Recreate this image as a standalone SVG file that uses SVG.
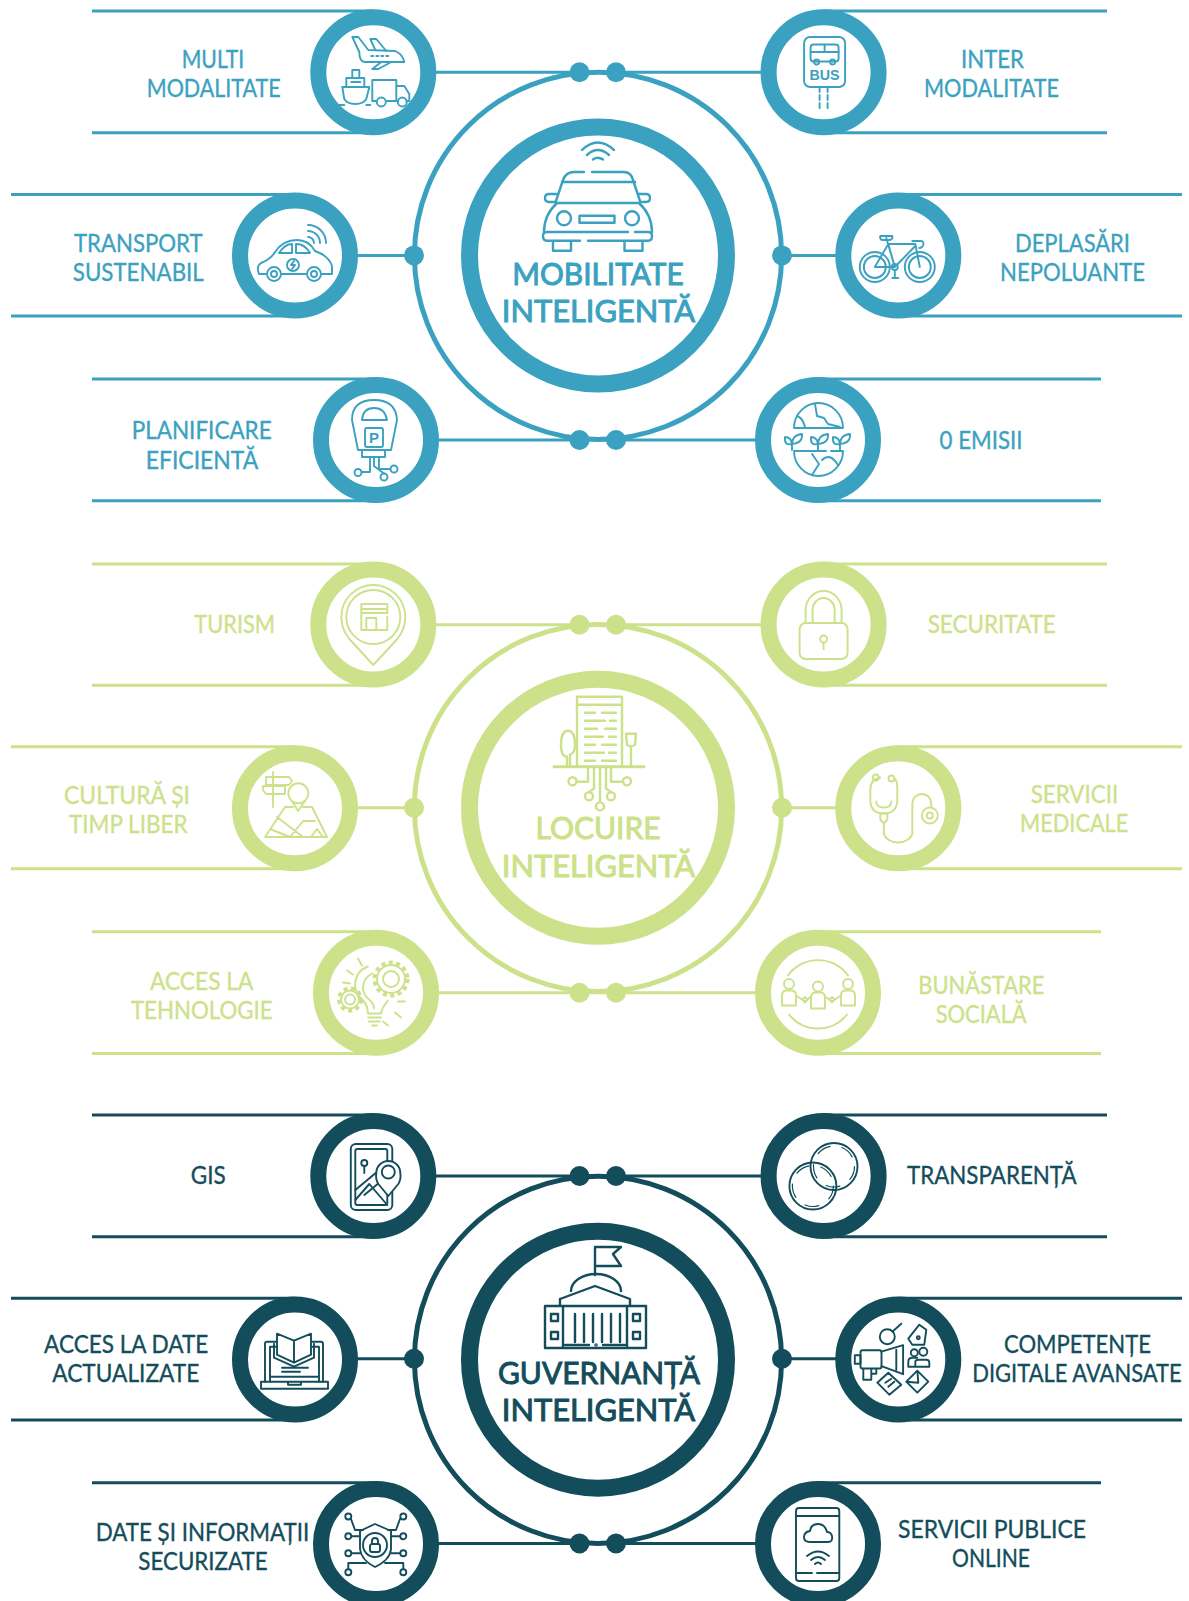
<svg xmlns="http://www.w3.org/2000/svg" width="1189" height="1601" viewBox="0 0 1189 1601">
<defs>
<style>
.teal{color:#3ba1c0}.lime{color:#cde18a}.navy{color:#134d5b}
.ring{fill:#fff;stroke:currentColor;stroke-width:16}
.hubring{fill:#fff;stroke:currentColor;stroke-width:17}
.orbit{fill:none;stroke:currentColor;stroke-width:5}
.dot{fill:currentColor}
.ic{fill:none;stroke:currentColor;stroke-width:1.9;stroke-linecap:round;stroke-linejoin:round}
.hubic{stroke-width:2.4}
.lb{fill:currentColor;stroke:currentColor;stroke-width:.35;font-family:Lato,"Open Sans",sans-serif;font-size:25px;text-anchor:middle}
.hub{font-size:31px;stroke-width:1}
.icb{fill:currentColor;stroke:none;font-family:"Liberation Sans",sans-serif;font-weight:700;text-anchor:middle}
.ln line{stroke:currentColor;stroke-width:3}
.gear{stroke-width:4;stroke-dasharray:4 3.5;stroke-linecap:butt}
</style>
</defs>
<rect width="1189" height="1601" fill="#fff"/>

<g id="connectors">
<g class="ln teal">
<line x1="92" y1="11" x2="373" y2="11"/><line x1="92" y1="132.7" x2="373" y2="132.7"/>
<line x1="823" y1="11" x2="1107" y2="11"/><line x1="823" y1="132.7" x2="1107" y2="132.7"/>
<line x1="11" y1="194.5" x2="295" y2="194.5"/><line x1="11" y1="316" x2="295" y2="316"/>
<line x1="898" y1="194.5" x2="1182" y2="194.5"/><line x1="898" y1="316" x2="1182" y2="316"/>
<line x1="92" y1="379" x2="376" y2="379"/><line x1="92" y1="500.7" x2="376" y2="500.7"/>
<line x1="818" y1="379" x2="1101" y2="379"/><line x1="818" y1="500.7" x2="1101" y2="500.7"/>
<line x1="373" y1="72.3" x2="823" y2="72.3"/><line x1="376" y1="440" x2="818" y2="440"/>
<line x1="295" y1="255.4" x2="414" y2="255.4"/><line x1="782" y1="255.4" x2="898" y2="255.4"/>
</g>
<g class="ln lime">
<line x1="92" y1="564" x2="373" y2="564"/><line x1="92" y1="685.3" x2="373" y2="685.3"/>
<line x1="823" y1="564" x2="1107" y2="564"/><line x1="823" y1="685.3" x2="1107" y2="685.3"/>
<line x1="11" y1="746.7" x2="295" y2="746.7"/><line x1="11" y1="868.7" x2="295" y2="868.7"/>
<line x1="898" y1="746.7" x2="1182" y2="746.7"/><line x1="898" y1="868.7" x2="1182" y2="868.7"/>
<line x1="92" y1="931.7" x2="376" y2="931.7"/><line x1="92" y1="1053.5" x2="376" y2="1053.5"/>
<line x1="818" y1="931.7" x2="1101" y2="931.7"/><line x1="818" y1="1053.5" x2="1101" y2="1053.5"/>
<line x1="373" y1="624.8" x2="823" y2="624.8"/><line x1="376" y1="992.7" x2="818" y2="992.7"/>
<line x1="295" y1="807.8" x2="414" y2="807.8"/><line x1="782" y1="807.8" x2="898" y2="807.8"/>
</g>
<g class="ln navy">
<line x1="92" y1="1115" x2="373" y2="1115"/><line x1="92" y1="1236.7" x2="373" y2="1236.7"/>
<line x1="823" y1="1115" x2="1107" y2="1115"/><line x1="823" y1="1236.7" x2="1107" y2="1236.7"/>
<line x1="11" y1="1298.3" x2="295" y2="1298.3"/><line x1="11" y1="1420" x2="295" y2="1420"/>
<line x1="898" y1="1298.3" x2="1182" y2="1298.3"/><line x1="898" y1="1420" x2="1182" y2="1420"/>
<line x1="92" y1="1482.7" x2="376" y2="1482.7"/>
<line x1="818" y1="1482.7" x2="1101" y2="1482.7"/>
<line x1="373" y1="1176" x2="823" y2="1176"/><line x1="376" y1="1543.5" x2="818" y2="1543.5"/>
<line x1="295" y1="1358.7" x2="414" y2="1358.7"/><line x1="782" y1="1358.7" x2="898" y2="1358.7"/>
</g>
</g>

<!-- MOBILITATE -->
<g id="hub-mobilitate" class="teal">
<circle class="orbit" cx="598" cy="255.8" r="183.6"/>
<circle class="hubring" cx="598" cy="255.5" r="128.5"/>
<circle class="dot" cx="579.5" cy="72.3" r="10"/><circle class="dot" cx="616" cy="72.3" r="10"/>
<circle class="dot" cx="579.5" cy="440" r="10"/><circle class="dot" cx="616" cy="440" r="10"/>
<circle class="dot" cx="414" cy="255.4" r="10"/><circle class="dot" cx="782" cy="255.4" r="10"/>
<g class="ic hubic">
<path d="M582,150 Q597.7,135 614,150M587,155 Q597.7,145 609,155M593,159.5 Q597.7,156 603,159.5"/>
<path d="M556,201 L563,180 Q566,172 574,172 H584M592,172 H624 Q631,172 633,180 L640,201"/>
<path d="M562,182 H635"/>
<path d="M556,203 H640"/>
<path d="M557,203 Q544,215 544,232M639,203 Q652,215 652,232"/>
<path d="M580,240.7 H547 Q543,240.7 543,236 Q543,232 547,232 H628M635,232 H648 Q652,232 652,236 Q652,240.7 648,240.7 H588"/>
<path d="M557,194 H549 Q545,194 545,198 Q545,202 549,202 H555M638,194 H646 Q650,194 650,198 Q650,202 646,202 H641"/>
<circle cx="564" cy="218.3" r="7"/><circle cx="632" cy="218.3" r="7"/><rect x="579.5" y="215.7" width="35" height="7"/>
<path d="M553,241 V250.7 H571 V241M624.5,241 V250.7 H642.5 V241"/>
</g>
<text class="lb hub" x="598" y="285" textLength="171.5" lengthAdjust="spacingAndGlyphs">MOBILITATE</text>
<text class="lb hub" x="598.5" y="321.7" textLength="193.5" lengthAdjust="spacingAndGlyphs">INTELIGENTĂ</text>
</g>

<g id="multi-modalitate" class="teal">
<circle class="ring" cx="373.3" cy="72.2" r="55"/>
<g class="ic" transform="translate(373.3,73)">
<path d="M-14,-21 L-21,-36 L-15,-36 L-5,-23 L22,-22 Q30,-18 31,-11 L-8,-11 Q-14,-11 -14,-21Z"/>
<path d="M2,-23 L-3,-34 L3,-34 L13,-22M8,-11 L-1,-4 L5,-4 L18,-11"/>
<path d="M-2,-17 H18" stroke-dasharray="2 3"/>
<path d="M-31,14 H-4 L-7,26 Q-10,31 -18,31 Q-26,31 -29,26Z M-27,14 V5 H-9 V14M-21,5 V-3 H-14 V5M-22,9 H-13M-34,32 H-29M-7,32 H-3"/>
<path d="M3,28 H-1 V7 H23 V28 H13M23,13 H31 L36,21 V28 H33M25,28 H23"/>
<circle cx="8" cy="29" r="4.5"/><circle cx="29" cy="29" r="4.5"/>
</g>
<text class="lb" x="213" y="67.7" textLength="62.6" lengthAdjust="spacingAndGlyphs">MULTI</text>
<text class="lb" x="213.7" y="96.7" textLength="134" lengthAdjust="spacingAndGlyphs">MODALITATE</text>
</g>

<g id="inter-modalitate" class="teal">
<circle class="ring" cx="823.6" cy="72.2" r="55"/>
<g class="ic" transform="translate(823.6,73)">
<rect x="-19.5" y="-36" width="41" height="50" rx="6"/>
<rect x="-13" y="-28.5" width="28" height="17" rx="3"/><path d="M-13,-21 H15M1,-28 V-21"/>
<circle cx="-7" cy="-11" r="2.5"/><circle cx="9" cy="-11" r="2.5"/>
<text class="icb" x="1" y="7" font-size="15" textLength="30" lengthAdjust="spacingAndGlyphs">BUS</text>
<path d="M-4,14 V37M4,14 V37" stroke-dasharray="5 3"/>
</g>
<text class="lb" x="992.5" y="67.7" textLength="63" lengthAdjust="spacingAndGlyphs">INTER</text>
<text class="lb" x="991.5" y="96.7" textLength="135" lengthAdjust="spacingAndGlyphs">MODALITATE</text>
</g>

<g id="transport-sustenabil" class="teal">
<circle class="ring" cx="295" cy="255.5" r="55"/>
<g class="ic" transform="translate(295,254)">
<path d="M-29,20 H-36 Q-39,12 -34,9 Q-24,5 -20,-2 Q-12,-14 2,-14 Q14,-14 20,-3 Q34,2 37,12 V20 H27M11,20 H-13"/>
<path d="M-16,-1 Q-10,-10 -3,-10 V-1ZM1,-10 Q10,-10 15,-1 H1Z"/>
<circle cx="-21" cy="20" r="7"/><circle cx="-21" cy="20" r="3"/><circle cx="19" cy="20" r="7"/><circle cx="19" cy="20" r="3"/>
<circle cx="-2" cy="11" r="6"/><path d="M-1,7 L-4,11 H0 L-3,15"/>
<path d="M13,-29 A18,18 0 0 1 31,-11M13,-23 A12,12 0 0 1 25,-11M13,-17 A6,6 0 0 1 19,-11"/>
</g>
<text class="lb" x="138.3" y="251.7" textLength="128.7" lengthAdjust="spacingAndGlyphs">TRANSPORT</text>
<text class="lb" x="138.3" y="281" textLength="131" lengthAdjust="spacingAndGlyphs">SUSTENABIL</text>
</g>

<g id="deplasari-nepoluante" class="teal">
<circle class="ring" cx="898.3" cy="255.5" r="55"/>
<g class="ic" transform="translate(898.3,254)">
<circle cx="-23.5" cy="13" r="15"/><circle cx="-23.5" cy="13" r="11"/><circle cx="21.5" cy="13" r="15"/><circle cx="21.5" cy="13" r="11"/>
<path d="M-23.5,13 L-10,-10 L17,-10 L21.5,13M-10,-10 L-3.5,13 L17,-8M-23.5,13 H-3.5M-12,-16 L-3.5,13"/>
<path d="M-18,-18 H-6 Q-5,-14 -10,-14 H-16 Q-19,-15 -18,-18ZM14,-13 H22 Q26,-13 25,-9 Q24,-6 21,-6"/>
<circle cx="-3.5" cy="13" r="3"/><path d="M-6,24 H0M-3.5,16 V24"/>
</g>
<text class="lb" x="1072.5" y="251.7" textLength="115" lengthAdjust="spacingAndGlyphs">DEPLASĂRI</text>
<text class="lb" x="1072.5" y="281" textLength="145" lengthAdjust="spacingAndGlyphs">NEPOLUANTE</text>
</g>

<g id="planificare-eficienta" class="teal">
<circle class="ring" cx="376" cy="440" r="55"/>
<g class="ic" transform="translate(376,438)">
<path d="M-24,-18 Q-24,-38 -2,-38 Q20,-38 21,-18 L15,12 H-18ZM-14,12 V19 H9 V12"/>
<path d="M-14,-18 Q-13,-30 -2,-30 Q9,-30 11,-18M-14,-18 H11"/>
<rect x="-11" y="-10" width="18" height="19" rx="2"/>
<text class="icb" x="-2" y="5" font-size="15">P</text>
<path d="M-6,19 V34 H-14.5M-2,19 V28 L8,35.5M3,19 V31 H14.5"/>
<circle cx="-18" cy="34.5" r="3.5"/><circle cx="18" cy="31" r="3.5"/><circle cx="8" cy="39" r="3.5"/>
</g>
<text class="lb" x="201.7" y="439.3" textLength="140" lengthAdjust="spacingAndGlyphs">PLANIFICARE</text>
<text class="lb" x="202" y="468.7" textLength="112.7" lengthAdjust="spacingAndGlyphs">EFICIENTĂ</text>
</g>

<g id="zero-emisii" class="teal">
<circle class="ring" cx="818" cy="440" r="55"/>
<g class="ic" transform="translate(818,438)">
<path d="M-24,-10 A24.5,25 0 0 1 25,-10ZM-24,13 A24.5,25 0 0 0 25,13M-24,13 H8M13,13 H25"/>
<path d="M-3,-34 L-1,-22 L6,-20 L10,-14 L22,-11M-21,-22 Q-15,-20 -13,-11"/>
<path d="M-6,37 L1,26 L-6,16M4,22 Q12,14 20,27"/>
<path d="M-26,12 V6 M-26,6 Q-34,8 -33,-1 Q-27,-1 -26,6M-26,6 Q-26,-3 -16,-4 Q-15,5 -26,6"/>
<path d="M0,12 V6 M0,6 Q-8,8 -7,-1 Q-1,-1 0,6M0,6 Q0,-3 10,-4 Q11,5 0,6"/>
<path d="M22,12 V6 M22,6 Q14,8 15,-1 Q21,-1 22,6M22,6 Q22,-3 32,-4 Q33,5 22,6"/>
</g>
<text class="lb" x="981" y="448.7" textLength="83" lengthAdjust="spacingAndGlyphs">0 EMISII</text>
</g>

<!-- LOCUIRE -->
<g id="hub-locuire" class="lime">
<circle class="orbit" cx="598" cy="808" r="183.6"/>
<circle class="hubring" cx="598" cy="807.8" r="128.5"/>
<circle class="dot" cx="579.5" cy="624.8" r="10"/><circle class="dot" cx="616" cy="624.8" r="10"/>
<circle class="dot" cx="579.5" cy="992.7" r="10"/><circle class="dot" cx="616" cy="992.7" r="10"/>
<circle class="dot" cx="414" cy="807.8" r="10"/><circle class="dot" cx="782" cy="807.8" r="10"/>
<g class="ic hubic" transform="translate(599,766.7)">
<path d="M-45,0 H45" stroke-width="3"/>
<path d="M-22,-1 V-70 H23 V-1"/>
<path d="M-22,-62 H23"/>
<path d="M-14,-54 H-4M3,-54 H17M-14,-46 H6M11,-46 H17M-14,-38 H-2M6,-38 H17M-14,-30 H4M10,-30 H17M-14,-22 H-4M3,-22 H17M-14,-14 H5M10,-14 H17M-14,-6 H-4M3,-6 H17"/>
<path d="M-29,0 V-12 M-32,0 V-8 M-29,-12 Q-24,-14 -24,-22 Q-24,-36 -31,-36 Q-38,-36 -38,-22 Q-38,-10 -32,-10"/>
<path d="M32,0 V-20M27,-33 H37 L36,-22 Q32,-19 28,-22Z"/>
<path d="M-11,0 V15 H-22M-5,0 V22 L-10,25M1,0 V35M7,0 V22 L12,25M12,0 V15 H23"/>
<circle cx="-26.5" cy="14.5" r="4"/><circle cx="28" cy="14.5" r="4"/><circle cx="-10" cy="29.5" r="4"/><circle cx="12" cy="29.5" r="4"/><circle cx="1" cy="39.7" r="4"/>
</g>
<text class="lb hub" x="598" y="839.3" textLength="125" lengthAdjust="spacingAndGlyphs">LOCUIRE</text>
<text class="lb hub" x="598.5" y="876.7" textLength="193.5" lengthAdjust="spacingAndGlyphs">INTELIGENTĂ</text>
</g>

<g id="turism" class="lime">
<circle class="ring" cx="373.3" cy="624.5" r="55"/>
<g class="ic" transform="translate(373.3,625)">
<path d="M0,40 L-24,14 Q-32,4 -32,-8 A32,32 0 1 1 32,-8 Q32,4 24,14Z"/>
<circle cx="0" cy="-8" r="27"/>
<path d="M-12,5 V-21 H14 V-12 H-12M-12,-16 H14M-7,5 V-7 H3 V5M14,-8 V5 H-12"/>
</g>
<text class="lb" x="234.7" y="633.3" textLength="80.7" lengthAdjust="spacingAndGlyphs">TURISM</text>
</g>

<g id="securitate" class="lime">
<circle class="ring" cx="823.6" cy="624.5" r="55"/>
<g class="ic" transform="translate(823.6,625)">
<rect x="-24" y="-2" width="48" height="36" rx="6"/>
<path d="M-18,-2 V-15 A18,19 0 0 1 18,-15 V-2M-11,-2 V-15 A11,12 0 0 1 11,-15 V-2"/>
<circle cx="0" cy="14" r="3.5"/><path d="M0,18 V24"/>
</g>
<text class="lb" x="991.7" y="633.3" textLength="128" lengthAdjust="spacingAndGlyphs">SECURITATE</text>
</g>

<g id="cultura-timp-liber" class="lime">
<circle class="ring" cx="295" cy="808.2" r="55"/>
<g class="ic" transform="translate(295,807)">
<path d="M-22,-35 V0M-29,-30 H-6 L-3,-26 L-6,-22 H-29ZM-32,-21 H-10 V-13 H-29 L-32,-17Z"/>
<circle cx="3.3" cy="-13.7" r="10"/><path d="M-3,-6 L3,4 L10,-6"/>
<path d="M-10,0 L-30,30 H32 L17,0 H8M-2,0 H-10M-25,22 L-5,30M-18,10 L8,30M-5,30 L8,14 H20M16,30 L22,22 L28,30"/>
</g>
<text class="lb" x="127" y="804.3" textLength="126" lengthAdjust="spacingAndGlyphs">CULTURĂ ȘI</text>
<text class="lb" x="128.3" y="833.3" textLength="118.7" lengthAdjust="spacingAndGlyphs">TIMP LIBER</text>
</g>

<g id="servicii-medicale" class="lime">
<circle class="ring" cx="898.3" cy="808.2" r="55"/>
<g class="ic" transform="translate(898.3,807.5)">
<circle cx="-22.5" cy="-30" r="3"/><circle cx="-6.8" cy="-29" r="3"/>
<path d="M-19,-30 H-18 Q-28,-28 -28,-18 V-8 Q-28,6 -14.5,6 Q-1,6 -1,-8 V-18 Q-1,-28 -4,-29"/>
<path d="M-22,-6 Q-22,0 -14.5,0 Q-7,0 -7,-6"/>
<path d="M-18,6 H-11 V12 L-14.5,16 L-18,12ZM-14.5,16 V26 A14.5,11 0 0 0 14,26 V-4 A9,9 0 0 1 33,-4 V0"/>
<circle cx="31.5" cy="8" r="8"/><circle cx="31.5" cy="8" r="3"/>
</g>
<text class="lb" x="1074.5" y="803.3" textLength="87.6" lengthAdjust="spacingAndGlyphs">SERVICII</text>
<text class="lb" x="1074.2" y="832.3" textLength="108.3" lengthAdjust="spacingAndGlyphs">MEDICALE</text>
</g>

<g id="acces-tehnologie" class="lime">
<circle class="ring" cx="376" cy="992.8" r="55"/>
<g class="ic" transform="translate(376,992.5)">
<circle cx="15" cy="-13.5" r="8"/><circle cx="15" cy="-13.5" r="14"/><circle class="gear" cx="15" cy="-13.5" r="16.5"/>
<circle cx="-26" cy="7" r="5"/><circle cx="-26" cy="7" r="9"/><circle class="gear" cx="-26" cy="7" r="11"/>
<path d="M-8,-26 Q-20,-22 -21,-8 Q-21,0 -14,7 Q-8,13 -8,21 H5 Q6,15 12,8 M-4,-19 Q-13,-14 -13,-5 Q-13,2 -7,7 Q-2,11 -2,16"/>
<path d="M-8,25 H5M-7,29 H4M-4,33 H1"/>
<path d="M-18,-34 L-14,-27M-29,-22 L-23,-18M-33,-10 L-26,-9M7,29 L12,33M19,20 L25,25M22,9 L29,9"/>
</g>
<text class="lb" x="201.7" y="990" textLength="103.3" lengthAdjust="spacingAndGlyphs">ACCES LA</text>
<text class="lb" x="201.8" y="1019" textLength="141.7" lengthAdjust="spacingAndGlyphs">TEHNOLOGIE</text>
</g>

<g id="bunastare-sociala" class="lime">
<circle class="ring" cx="818" cy="992.8" r="55"/>
<g class="ic" transform="translate(818,992.5)">
<path d="M-30,-17 A37,37 0 0 1 30,-17M-29,22 A37,37 0 0 0 29,22"/>
<circle cx="-29" cy="-8.5" r="5"/><circle cx="0" cy="-6" r="5"/><circle cx="30" cy="-8.5" r="5"/>
<path d="M-36,13 V3 Q-36,-2 -31,-2 H-27 Q-22,-2 -22,3 V13ZM-7,16 V5 Q-7,0 -2,0 H2 Q7,0 7,5 V16ZM23,13 V3 Q23,-2 28,-2 H32 Q37,-2 37,3 V13Z"/>
<path d="M-22,3 L-13,9 L-7,4M7,4 L14,9 L23,3"/>
<path d="M-15.5,7 L-13,4.5 L-10.5,7 L-13,10ZM11.5,7 L14,4.5 L16.5,7 L14,10Z"/>
</g>
<text class="lb" x="981.3" y="994.3" textLength="126" lengthAdjust="spacingAndGlyphs">BUNĂSTARE</text>
<text class="lb" x="981.2" y="1023.3" textLength="91" lengthAdjust="spacingAndGlyphs">SOCIALĂ</text>
</g>

<!-- GUVERNANTA -->
<g id="hub-guvernanta" class="navy">
<circle class="orbit" cx="598" cy="1359.8" r="183.6"/>
<circle class="hubring" cx="598" cy="1359.7" r="128.5"/>
<circle class="dot" cx="579.5" cy="1176" r="10"/><circle class="dot" cx="616" cy="1176" r="10"/>
<circle class="dot" cx="579.5" cy="1543.5" r="10"/><circle class="dot" cx="616" cy="1543.5" r="10"/>
<circle class="dot" cx="414" cy="1358.7" r="10"/><circle class="dot" cx="782" cy="1358.7" r="10"/>
<g class="ic hubic" transform="translate(595,1306)">
<path d="M0,-31 V-59 H26 L18,-52 L26,-40 H0"/>
<path d="M-24,-15 A25,17 0 0 1 26,-15"/>
<path d="M-35,-7 L0,-20 L35,-7 V0M-35,-7 V0M-50,0 H51 V42 H-50ZM-32,0 V42M32,0 V42"/>
<path d="M-20,8 V36M-11,8 V36M-2,8 V36M7,8 V36M16,8 V36M25,8 V36"/>
<rect x="-44" y="8" width="7" height="7"/><rect x="-44" y="26" width="7" height="7"/><rect x="38" y="8" width="7" height="7"/><rect x="38" y="26" width="7" height="7"/>
<path d="M-30,39 H-6M8,39 H30"/><circle cx="1" cy="39" r="0.6"/>
</g>
<text class="lb hub" x="599" y="1384" textLength="202" lengthAdjust="spacingAndGlyphs">GUVERNANȚĂ</text>
<text class="lb hub" x="598.5" y="1420.7" textLength="193.5" lengthAdjust="spacingAndGlyphs">INTELIGENTĂ</text>
</g>

<g id="gis" class="navy">
<circle class="ring" cx="373.3" cy="1176" r="55"/>
<g class="ic" transform="translate(373.3,1176)">
<rect x="-22.5" y="-32" width="41.5" height="66" rx="5"/>
<rect x="-18" y="-27" width="32" height="56" rx="2"/>
<path d="M-8,-27 H4"/>
<circle cx="-9" cy="-13" r="3"/><path d="M-9,-10 V-3"/>
<path d="M-18,24 L-4,8 L14,29M-18,14 L6,-6M-9,19 L8,5"/>
<path d="M15,20 L5,8 Q2,3 3,-3 A12,12 0 0 1 27,-3 Q28,3 25,8Z" fill="#fff"/>
<circle cx="15" cy="-4" r="6.5"/>
</g>
<text class="lb" x="208.2" y="1184.3" textLength="35" lengthAdjust="spacingAndGlyphs">GIS</text>
</g>

<g id="transparenta" class="navy">
<circle class="ring" cx="823.6" cy="1176" r="55"/>
<g class="ic" transform="translate(823.6,1176)">
<circle cx="10.4" cy="-9.5" r="23.5"/><circle cx="10.4" cy="-9.5" r="20.5" stroke-dasharray="14 12" stroke-width="1.2"/>
<circle cx="-10.7" cy="10" r="23.5"/><circle cx="-10.7" cy="10" r="20.5" stroke-dasharray="14 12" stroke-width="1.2"/>
</g>
<text class="lb" x="991.8" y="1184.3" textLength="169.7" lengthAdjust="spacingAndGlyphs">TRANSPARENȚĂ</text>
</g>

<g id="acces-date" class="navy">
<circle class="ring" cx="295" cy="1359.5" r="55"/>
<g class="ic" transform="translate(295,1358.7)">
<path d="M-18,-17 H-28 Q-30,-17 -30,-15 V23M28,23 V-15 Q28,-17 26,-17 H17M-25,23 V-12 H-18M24,23 V-12 H17M-25,18 H24"/>
<path d="M-1,4 L-18,-4 V-25 L-1,-18 L16,-25 V-4ZM-1,-18 V4M-21,-15 V-1 L-1,8 L19,-1 V-15"/>
<path d="M-13,9 H13M-13,13 H5"/>
<path d="M-34,23 H33 V30 H-34ZM-7,23 V26 H6 V23"/>
</g>
<text class="lb" x="126.2" y="1353.3" textLength="164.3" lengthAdjust="spacingAndGlyphs">ACCES LA DATE</text>
<text class="lb" x="125.8" y="1382.3" textLength="147" lengthAdjust="spacingAndGlyphs">ACTUALIZATE</text>
</g>

<g id="competente-digitale" class="navy">
<circle class="ring" cx="898.3" cy="1359.5" r="55"/>
<g class="ic" transform="translate(898.3,1358.7)">
<path d="M-16.8,-7 L4.8,-13.5 V15.5 L-16.8,7.5M-2,-9 V11"/>
<rect x="-37.8" y="-8.5" width="21" height="18.3" rx="2"/><rect x="-43.5" y="-3.5" width="5.7" height="8.5"/>
<path d="M-35,10 V21 H-27 V10M-27,15 H-22 V10"/>
<circle cx="-11" cy="-22" r="7.5"/><path d="M-6,-27 L3,-35"/>
<path d="M10,-20 L21,-34 L28,-29 L26,-14 L14,-14Z"/><circle cx="20" cy="-21" r="1.5"/>
<circle cx="16" cy="-6" r="3.5"/><circle cx="25" cy="-7" r="4"/><path d="M10,8 V3 Q10,-1 14,-1 H19 M17,8 V3 Q17,1 21,1 H28 Q31,1 31,4 V8 H10"/>
<path d="M-21,24 L-10,14 L3,26 L-9,36ZM-13,24 L-7,20M-10,28 L-4,23"/>
<path d="M8,23 L19,12 L30,23 L19,34ZM8,23 L20,24 L19,12"/>
</g>
<text class="lb" x="1077.5" y="1353.3" textLength="147" lengthAdjust="spacingAndGlyphs">COMPETENȚE</text>
<text class="lb" transform="translate(1077,1382.3) scale(.88,1)" x="0" y="0" textLength="238" lengthAdjust="spacingAndGlyphs">DIGITALE AVANSATE</text>
</g>

<g id="date-securizate" class="navy">
<circle class="ring" cx="376" cy="1544" r="55"/>
<g class="ic" transform="translate(376,1543)">
<path d="M-1,-19 L15,-12 V6 Q14,17 -1,24 Q-15,17 -16,6 V-12Z"/>
<circle cx="-1" cy="2" r="12"/>
<rect x="-6" y="1" width="10" height="8" rx="2"/><path d="M-4,1 V-2 A3,3 0 0 1 2,-2 V1"/>
<circle cx="-27.7" cy="-26.5" r="3"/><circle cx="27.3" cy="-26.5" r="3"/>
<circle cx="-27.7" cy="-6.8" r="3"/><circle cx="27.3" cy="-6.8" r="3"/>
<circle cx="-27.7" cy="10.2" r="3"/><circle cx="27.3" cy="10.2" r="3"/>
<circle cx="-27.7" cy="29.2" r="3"/><circle cx="27.3" cy="29.2" r="3"/>
<path d="M-25,-24 L-21,-13 H-13M24,-24 L20,-13 H12M-24.5,-6.8 H-16M24,-6.8 H15M-24.5,10.2 H-16M24,10.2 H15M-27.7,26 V20 H-10M27.3,26 V20 H9"/>
</g>
<text class="lb" x="202.5" y="1541" textLength="213.6" lengthAdjust="spacingAndGlyphs">DATE ȘI INFORMAȚII</text>
<text class="lb" x="203" y="1570" textLength="129.4" lengthAdjust="spacingAndGlyphs">SECURIZATE</text>
</g>

<g id="servicii-online" class="navy">
<circle class="ring" cx="818" cy="1544" r="55"/>
<g class="ic" transform="translate(818,1543)">
<rect x="-22" y="-35" width="43.3" height="73" rx="3"/>
<path d="M-22,-27 H21M-22,30 H-6M-1,30 H21"/>
<path d="M-8,-1 H10 Q15,-1 14,-7 Q13,-11 9,-11 Q7,-19 0,-19 Q-7,-19 -8,-12 Q-14,-11 -14,-6 Q-14,-1 -8,-1Z"/>
<path d="M-11,13 Q0,4 11,13M-7,17 Q0,11 7,17M-3,21 Q0,18 3,21"/>
</g>
<text class="lb" x="992" y="1538" textLength="188" lengthAdjust="spacingAndGlyphs">SERVICII PUBLICE</text>
<text class="lb" x="991" y="1567" textLength="78" lengthAdjust="spacingAndGlyphs">ONLINE</text>
</g>
</svg>
